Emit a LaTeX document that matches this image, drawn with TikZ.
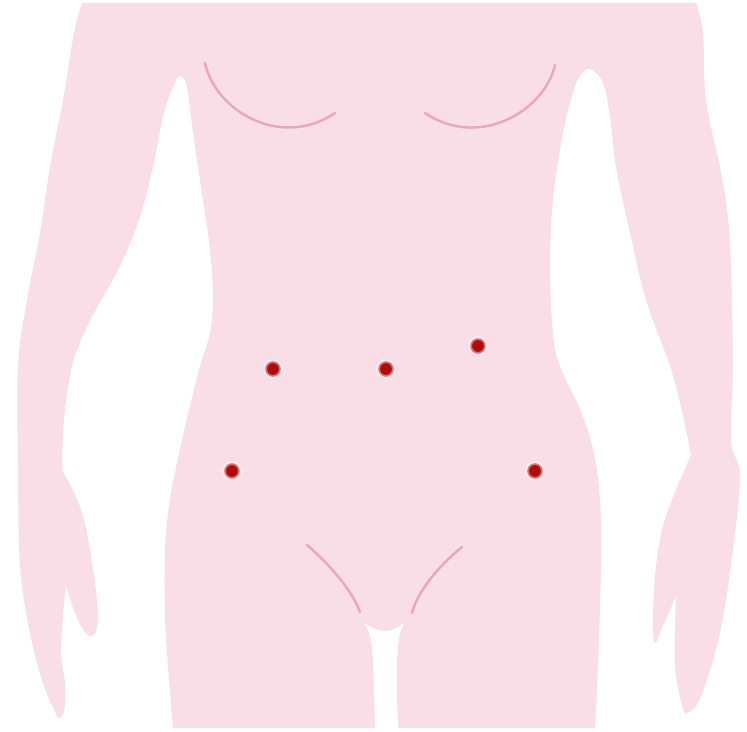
\documentclass[tikz,border=0pt]{standalone}
\usepackage{tikz}
\definecolor{skin}{HTML}{F9DEE8}
\definecolor{crease}{HTML}{EAA6C0}
\definecolor{portred}{HTML}{B00C0C}
\tikzset{
  body/.style={fill=skin, draw=none},
  fold/.style={draw=crease, line width=2.1pt, line cap=round},
  port/.style={circle, fill=portred, inner sep=0pt, minimum size=0.47cm,
               draw=white, draw opacity=0.45, line width=3pt},
}

\begin{document}
\begin{tikzpicture}[x=0.03cm, y=-0.03cm]
\useasboundingbox (0,0) rectangle (747,732);

% --- silhouette, clockwise from the top left ---
\path[body] (82,3) -- (696,3)
  % right arm, outer edge down to the fingertips
  -- plot[smooth, tension=0.6] coordinates {(696,3) (703,33) (706,100) (720,167) (728,217)
       (731,267) (733,366) (731,440) (740,476) (733,549) (720,633) (700,699) (686,713)}
  % right hand, inner edge, thumb, wrist, up into the armpit
  -- plot[smooth, tension=0.6] coordinates {(686,713) (683,709) (675,666) (676,596)}
  -- plot[smooth, tension=0.6] coordinates {(676,596) (663,626) (655,643) (653,620)
       (656,566) (666,516) (691,455)}
  -- plot[smooth, tension=0.6] coordinates {(691,455) (683,416) (670,366) (646,300)
       (630,233) (616,167) (610,117) (603,83) (590,69) (580,76) (573,93) (563,133)
       (553,200) (550,267) (553,333) (560,366) (580,409) (593,449) (600,499)
       (601,566) (598,666) (595,728)}
  -- (398,728)
  % between the legs
  -- plot[smooth, tension=0.6] coordinates {(398,728) (397,690) (397,660) (400,634) (405,622)}
  -- plot[smooth, tension=0.6] coordinates {(405,622) (396,628) (385,631) (373,628) (363,622)}
  -- plot[smooth, tension=0.6] coordinates {(363,622) (370,636) (373,660) (374,690) (375,728)}
  -- (173,728)
  % left side of the torso up to the armpit
  -- plot[smooth, tension=0.6] coordinates {(173,728) (168,666) (165,616) (165,549) (170,499)
       (180,449) (190,406) (200,366) (210,333) (213,300) (210,250) (203,200) (193,133)
       (187,87) (180,76) (173,87) (163,117) (153,167) (140,217) (123,260) (107,290)
       (87,327) (72,366) (64,420) (62,470)}
  % left thumb and hand
  -- plot[smooth, tension=0.6] coordinates {(62,470) (77,499) (87,533) (97,599) (97,628)
       (91,636) (82,628) (72,605) (66,584)}
  -- plot[smooth, tension=0.6] coordinates {(66,584) (61,649) (65,683) (64,712) (58,718)}
  % left arm, outer edge back to the top
  -- plot[smooth, tension=0.6] coordinates {(58,718) (43,683) (30,633) (20,566) (18,466)
       (18,366) (27,300) (40,233) (50,167) (63,100) (74,33) (82,3)}
  -- cycle;

% --- breast and groin folds ---
\draw[fold] (205,63) .. controls (215,110) and (280,150) .. (335,113);
\draw[fold] (555,65) .. controls (545,110) and (480,150) .. (425,113);
\draw[fold] (307,545) .. controls (330,565) and (352,590) .. (360,612);
\draw[fold] (462,547) .. controls (440,565) and (418,590) .. (412,613);

% --- port sites ---
\foreach \px/\py/\nm in {273/369/umbL, 386/369/umbC, 478/346/umbR, 232/471/lowL, 535/471/lowR}
  \node[port] (\nm) at (\px,\py) {};

\end{tikzpicture}
\end{document}
